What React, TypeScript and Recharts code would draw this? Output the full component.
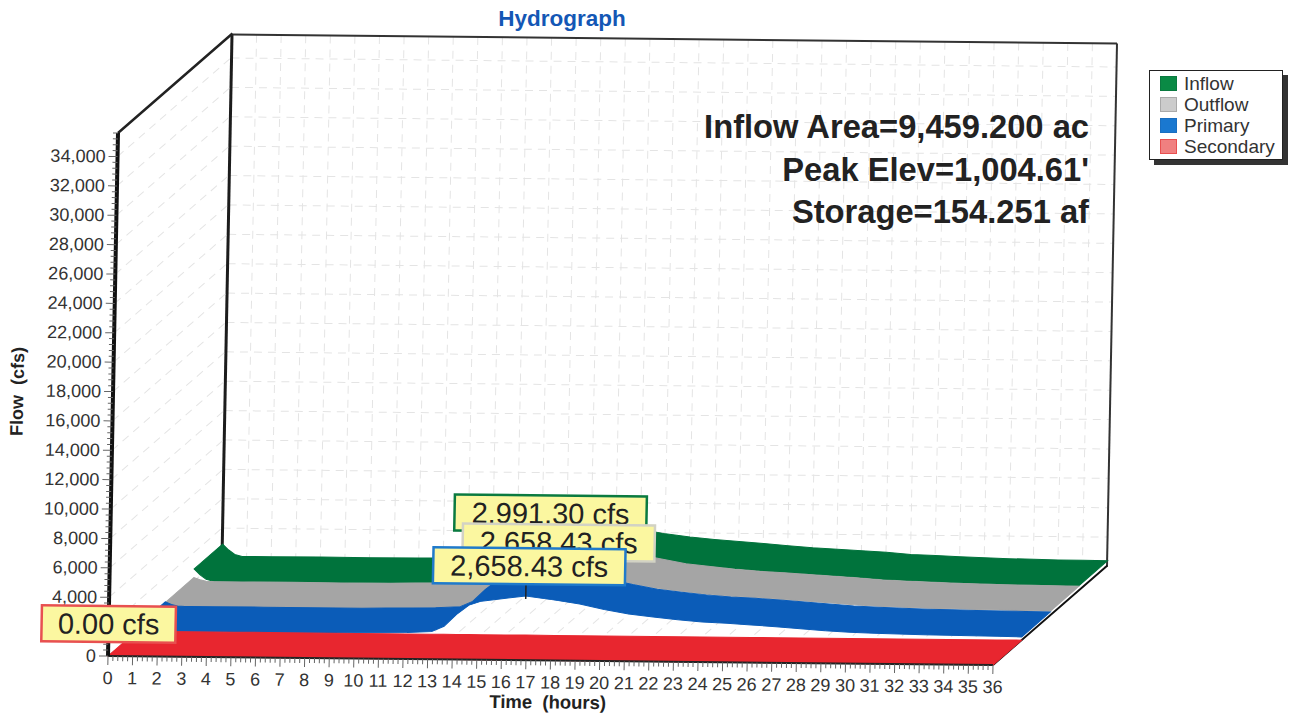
import React from 'react';
import { ComposedChart, Line, XAxis, YAxis, CartesianGrid, ReferenceLine, ReferenceDot } from 'recharts';

// ---- data ----
const hours = [0, 0.25, 0.5, 0.8, 1, 2, 4, 6, 8, 9, 10, 11, 12, 12.5, 13, 13.5, 14, 15, 15.8, 17, 18, 19, 20, 21, 22, 23, 24, 25, 26, 27, 28, 29, 30, 31, 32, 33, 34, 35, 36];
const inflow = [850, 450, 150, 20, 20, 20, 30, 20, 30, 60, 80, 120, 300, 800, 1700, 2400, 2800, 2991, 2800, 2150, 1850, 1650, 1500, 1380, 1260, 1120, 1000, 930, 840, 750, 620, 560, 500, 440, 400, 370, 350, 340, 320];
const outflow = [260, 120, 20, 0, 0, 0, 10, 0, 10, 40, 60, 90, 180, 544, 1360, 2000, 2280, 2500, 2658, 2400, 2150, 1850, 1550, 1380, 1200, 1080, 1000, 900, 800, 700, 580, 500, 450, 400, 370, 340, 320, 300, 280];
const primary = [300, 120, 20, 0, 0, 0, 10, 0, 10, 40, 60, 90, 180, 544, 1360, 2000, 2280, 2500, 2658, 2400, 2150, 1800, 1500, 1320, 1150, 1020, 950, 850, 740, 620, 500, 420, 370, 330, 300, 280, 260, 240, 220];
const secondary = [0, 0, 0, 0, 0, 0, 0, 0, 0, 0, 0, 0, 0, 0, 0, 0, 0, 0, 0, 0, 0, 0, 0, 0, 0, 0, 0, 0, 0, 0, 0, 0, 0, 0, 0, 0, 0, 0, 0];
const legendNames = ['Inflow', 'Outflow', 'Primary', 'Secondary'];
const calloutTexts = ['2,991.30 cfs', '2,658.43 cfs', '2,658.43 cfs', '0.00 cfs'];
const calloutHours = [15, 15.8, 15.8, 0];
const calloutFlows = [2991.3, 2658.43, 2658.43, 0];
const statLines = ['Inflow Area=9,459.200 ac', 'Peak Elev=1,004.61\'', 'Storage=154.251 af'];

const majorHours = Array.from({ length: 37 }, (_, i) => i);
const minorHours = Array.from({ length: 181 }, (_, i) => i / 5);
const majorFlows = Array.from({ length: 18 }, (_, i) => i * 2000);
const minorFlows = Array.from({ length: 90 }, (_, i) => i * 400);
const FLOW_MAX = 35600;

const table = hours.map((t, i) => ({ t, inflow: inflow[i], outflow: outflow[i], primary: primary[i], secondary: secondary[i] }));

// ---- 3D look: sweep along the depth direction of the box ----
const DEPTH_X = 112.5;
const DEPTH_Y = -100.6;

const ribbon = (from: number, to: number) => (ctx: any) => {
  let pts: number[][] = [];
  return {
    areaStart() {}, areaEnd() {},
    lineStart() { pts = []; },
    point(x: number, y: number) { pts.push([x, y]); },
    lineEnd() {
      pts.forEach((p, i) => {
        const X = p[0] + DEPTH_X * from, Y = p[1] + DEPTH_Y * from;
        if (i === 0) ctx.moveTo(X, Y); else ctx.lineTo(X, Y);
      });
      [...pts].reverse().forEach((p) => ctx.lineTo(p[0] + DEPTH_X * to, p[1] + DEPTH_Y * to));
      ctx.closePath();
    },
  };
};
const spokes = (ctx: any) => ({
  areaStart() {}, areaEnd() {},
  lineStart() {}, lineEnd() {},
  point(x: number, y: number) {
    ctx.moveTo(x, y);
    ctx.lineTo(x + DEPTH_X, y + DEPTH_Y);
  },
});

const series = [
  { key: 'inflow', from: 0.75, color: '#00733c' },
  { key: 'outflow', from: 0.5, color: '#a5a5a5' },
  { key: 'primary', from: 0.25, color: '#0b5cb8' },
  { key: 'secondary', from: 0, color: '#e8262f' },
];
const calloutStyle = [
  { border: '#0a7a40', depth: 0.75, dx: -25, dy: -121, w: 192 },
  { border: '#d2d2c4', depth: 0.5, dx: -36, dy: -97, w: 192 },
  { border: '#1f7acb', depth: 0.25, dx: -65, dy: -73, w: 192 },
  { border: '#e85050', depth: 0, dx: -67, dy: -50, w: 134 },
];

const SANS = '"Liberation Sans", Arial, sans-serif';
const CHART = { width: 1291, height: 717 };
const MARGIN = { top: 133, right: 298, bottom: 0, left: 0 };
const TILT = 'matrix(1, 0.01017, -0.01912, 1, 0, 0)';

const XTick = (p: any) => {
  const v = p.payload.value;
  const major = Math.abs(v - Math.round(v)) < 1e-6;
  return (
    <g>
      <line x1={p.x} x2={p.x} y1={p.y} y2={p.y + (major ? 9 : 5)} stroke="#666" strokeWidth={1} />
      {major && <text x={p.x} y={p.y + 28} textAnchor="middle" fontSize={18} fontFamily={SANS} fill="#333">{v}</text>}
    </g>
  );
};
const YTick = (p: any) => {
  const v = p.payload.value;
  const major = v % 2000 === 0;
  return (
    <g>
      <line x1={p.x} x2={p.x - (major ? 9 : 5)} y1={p.y} y2={p.y} stroke="#666" strokeWidth={1} />
      {major && <text x={p.x - 12} y={p.y + 6} textAnchor="end" fontSize={18} fontFamily={SANS} fill="#333">{v.toLocaleString('en-US')}</text>}
    </g>
  );
};

const calloutShape = (i: number) => (p: any) => {
  const s = calloutStyle[i];
  const cx = p.cx + DEPTH_X * s.depth;
  const cy = p.cy + DEPTH_Y * s.depth;
  const x = p.cx + s.dx;
  const y = p.cy + s.dy;
  return (
    <g>
      {i === 2 && <line x1={cx} x2={cx} y1={y + 36} y2={cy + 3} stroke="#222" strokeWidth={1.5} />}
      <rect x={x} y={y} width={s.w} height={36} fill="#fbf7a0" stroke={s.border} strokeWidth={2.5} />
      <text x={x + s.w / 2} y={y + 28} textAnchor="middle" fontSize={29} fontFamily={SANS} fill="#222">{calloutTexts[i]}</text>
    </g>
  );
};

const layer: React.CSSProperties = { position: 'absolute', left: 0, top: 0, transformOrigin: '108px 656px' };
const PLOT_MARGIN = { ...MARGIN, bottom: 61 };

export default function App() {
  return (
    <div style={{ position: 'absolute', left: 0, top: 0, width: 1291, height: 717, overflow: 'hidden', background: '#fff', fontFamily: SANS }}>
      <style>{`
        ${series.map((s) => `.rib-${s.key} .recharts-line-curve { fill: ${s.color}; }`).join('\n')}
        svg { overflow: visible; }
      `}</style>

      {/* back wall */}
      <div style={{ ...layer, transform: `translate(114px, -98.5px) ${TILT}` }}>
        <ComposedChart {...CHART} margin={PLOT_MARGIN} data={table}>
          <XAxis dataKey="t" type="number" domain={[0, 36]} ticks={majorHours} height={0} hide />
          <YAxis type="number" domain={[0, FLOW_MAX]} ticks={majorFlows} width={108} tick={false} axisLine={false} tickLine={false} />
          <CartesianGrid stroke="#e4e4e4" strokeDasharray="8 6" horizontal={false} verticalValues={majorHours} />
          {majorFlows.map((v) => (
            <Line key={v} data={[{ t: 0, v }, { t: 36, v }]} dataKey="v" stroke="#e4e4e4" strokeWidth={1} strokeDasharray="8 6" dot={false} isAnimationActive={false} />
          ))}
          <ReferenceLine x={0} stroke="#1c1c1c" strokeWidth={3} />
          <ReferenceLine x={36} stroke="#333" strokeWidth={2} />
          <ReferenceLine y={FLOW_MAX} stroke="#333" strokeWidth={2} />
        </ComposedChart>
      </div>

      {/* walls, floor, ribbons, axes */}
      <div style={{ ...layer, transform: TILT }}>
        <ComposedChart {...CHART} margin={MARGIN} data={table}>
          <XAxis
            dataKey="t" type="number" domain={[0, 36]} ticks={minorHours} interval={0} height={61}
            tick={XTick} tickLine={false} axisLine={{ stroke: '#222', strokeWidth: 2 }} tickSize={0} tickMargin={0}
            label={{ value: 'Time\u00A0\u00A0(hours)', position: 'insideBottom', offset: 13, dx: -2, style: { fontSize: 18.5, fontWeight: 700, fontFamily: SANS, fill: '#222' } }}
          />
          <YAxis
            type="number" domain={[0, FLOW_MAX]} ticks={minorFlows} interval={0} width={108}
            tick={YTick} tickLine={false} axisLine={{ stroke: '#111', strokeWidth: 4 }} tickSize={0} tickMargin={0}
            label={{ value: 'Flow\u00A0\u00A0(cfs)', angle: -90, position: 'insideLeft', offset: 0, dx: 12, dy: -2, style: { fontSize: 18, fontWeight: 700, fontFamily: SANS, fill: '#222', textAnchor: 'middle' } }}
          />
          {/* wall and floor guide lines */}
          <Line data={majorFlows.map((v) => ({ t: 0, v }))} dataKey="v" type={spokes as any} stroke="#e4e4e4" strokeDasharray="8 6" dot={false} isAnimationActive={false} />
          <Line data={majorHours.map((t) => ({ t, v: 0 }))} dataKey="v" type={spokes as any} stroke="#e4e4e4" strokeDasharray="8 6" dot={false} isAnimationActive={false} />
          <Line data={[{ t: 0, v: FLOW_MAX }, { t: 0, v: FLOW_MAX }]} dataKey="v" type={spokes as any} stroke="#222" strokeWidth={2.5} dot={false} isAnimationActive={false} />
          <Line data={[{ t: 36, v: 0 }, { t: 36, v: 0 }]} dataKey="v" type={spokes as any} stroke="#111" strokeWidth={2} dot={false} isAnimationActive={false} />
          {series.map((s) => (
            <Line
              key={s.key} className={`rib-${s.key}`} dataKey={s.key} name={s.key}
              type={ribbon(s.from, s.from + 0.25) as any} stroke={s.color} strokeWidth={1}
              dot={false} isAnimationActive={false}
            />
          ))}
        </ComposedChart>
      </div>

      {/* callouts sit above the axes */}
      <div style={{ ...layer, transform: TILT }}>
        <ComposedChart {...CHART} margin={PLOT_MARGIN} data={table}>
          <XAxis dataKey="t" type="number" domain={[0, 36]} height={0} hide />
          <YAxis type="number" domain={[0, FLOW_MAX]} width={108} tick={false} axisLine={false} tickLine={false} />
          <Line dataKey="secondary" stroke="none" dot={false} isAnimationActive={false} />
          {calloutTexts.map((txt, i) => (
            <ReferenceDot key={i} x={calloutHours[i]} y={calloutFlows[i]} ifOverflow="visible" shape={calloutShape(i)} />
          ))}
        </ComposedChart>
      </div>

      {/* title and annotation */}
      <div style={{ position: 'absolute', left: 462, width: 200, top: 6, textAlign: 'center', fontSize: 22.5, fontWeight: 700, color: '#1457b5' }}>Hydrograph</div>
      <div style={{ position: 'absolute', right: 202, top: 106, textAlign: 'right', fontSize: 32.7, fontWeight: 700, lineHeight: '42.5px', color: '#222', whiteSpace: 'nowrap' }}>
        {statLines.map((s) => <div key={s}>{s}</div>)}
      </div>

      {/* legend */}
      <div style={{ position: 'absolute', left: 1149, top: 70, width: 132, height: 88, background: '#fff', border: '1.5px solid #222', boxShadow: '5px 5px 0 #333' }}>
        {legendNames.map((n, i) => (
          <div key={n} style={{ position: 'absolute', left: 0, top: 2 + i * 21, height: 21, display: 'flex', alignItems: 'center', whiteSpace: 'nowrap', fontSize: 19, color: '#333' }}>
            <span style={{ display: 'inline-block', width: 17, height: 15, marginLeft: 10, marginRight: 7, boxSizing: 'border-box', background: ['#0a8a45', '#cccccc', '#1a78d0', '#f08080'][i], border: `1px solid ${['#0a7a40', '#aaa', '#1a6ec0', '#e85050'][i]}` }} />
            {n}
          </div>
        ))}
      </div>
    </div>
  );
}
